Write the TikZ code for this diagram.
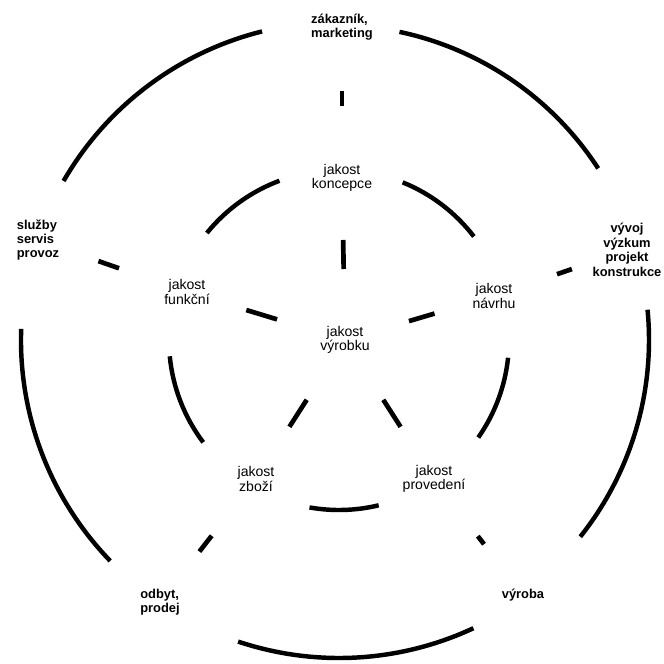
\documentclass[tikz,border=0pt]{standalone}
\usepackage{fontspec}
\setmainfont{Liberation Sans}
\begin{document}
\begin{tikzpicture}[
  x=0.03cm, y=0.03cm,
  inner/.style={align=center,inner sep=0pt,font=\fontsize{12}{12}\selectfont},
  outer/.style={align=left,inner sep=0pt,font=\fontsize{11}{12}\selectfont\bfseries},
  ring/.style={line width=3.8pt},
  inspoke/.style={line width=4pt,shorten <=2.13cm,shorten >=1.86cm},
  outspoke/.style={line width=4pt,shorten <=2.16cm,shorten >=1.92cm}
]
\useasboundingbox (-339,-324) rectangle (325,340);

\node[inner] (vyrobku) at (6,0) {jakost\\výrobku};
\node[inner] (koncepce) at (3,162) {jakost\\koncepce};
\node[inner] (funkcni) at (-152,48) {jakost\\funkční};
\node[inner] (navrhu) at (155,44) {jakost\\návrhu};
\node[inner] (zbozi) at (-83,-139) {jakost\\zboží};
\node[inner] (provedeni) at (95,-139) {jakost\\provedení};

\node[outer] (zakaznik) at (3,313) {zákazník,\\marketing};
\node[outer] (sluzby) at (-301,100) {služby\\servis\\provoz};
\node[outer,align=center,font=\fontsize{11}{12.5}\selectfont\bfseries] (vyvoj) at (288,90) {vývoj\\výzkum\\projekt\\konstrukce};
\node[outer] (odbyt) at (-179,-262) {odbyt,\\prodej};
\node[outer] (vyroba) at (184,-255) {výroba};

\draw[ring] (104:9.54cm) arc[start angle=104,end angle=150,radius=9.54cm];
\draw[ring] ([shift={(-5,0)}]33:9.45cm) arc[start angle=33,end angle=78,radius=9.45cm];
\draw[ring] ([shift={(-6,0)}]-38.5:9.48cm) arc[start angle=-38.5,end angle=5.5,radius=9.48cm];
\draw[ring] (-108.5:9.54cm) arc[start angle=-108.5,end angle=-65,radius=9.54cm];
\draw[ring] (178:9.54cm) arc[start angle=178,end angle=224,radius=9.54cm];

\draw[ring] (110.5:5.1cm) arc[start angle=110.5,end angle=141,radius=5.1cm];
\draw[ring] (37.5:5.1cm) arc[start angle=37.5,end angle=68,radius=5.1cm];
\draw[ring] (185.5:5.1cm) arc[start angle=185.5,end angle=217,radius=5.1cm];
\draw[ring] (-35:5.1cm) arc[start angle=-35,end angle=-6,radius=5.1cm];
\draw[ring] (-100:5.1cm) arc[start angle=-100,end angle=-76.5,radius=5.1cm];

\draw[inspoke] (vyrobku.center) -- (koncepce.center);
\draw[inspoke] (vyrobku.center) -- (funkcni.center);
\draw[inspoke,shorten <=2.0cm] (vyrobku.center) -- (navrhu.center);
\draw[inspoke] (vyrobku.center) -- (zbozi.center);
\draw[inspoke] (vyrobku.center) -- (provedeni.center);

\draw[outspoke] (koncepce.center) -- (zakaznik.center);
\draw[outspoke] (funkcni.center) -- (sluzby.center);
\draw[outspoke,shorten <=2.0cm,shorten >=1.75cm] (navrhu.center) -- (vyvoj.center);
\draw[outspoke] (zbozi.center) -- (odbyt.center);
\draw[outspoke] (provedeni.center) -- (vyroba.center);
\end{tikzpicture}
\end{document}
